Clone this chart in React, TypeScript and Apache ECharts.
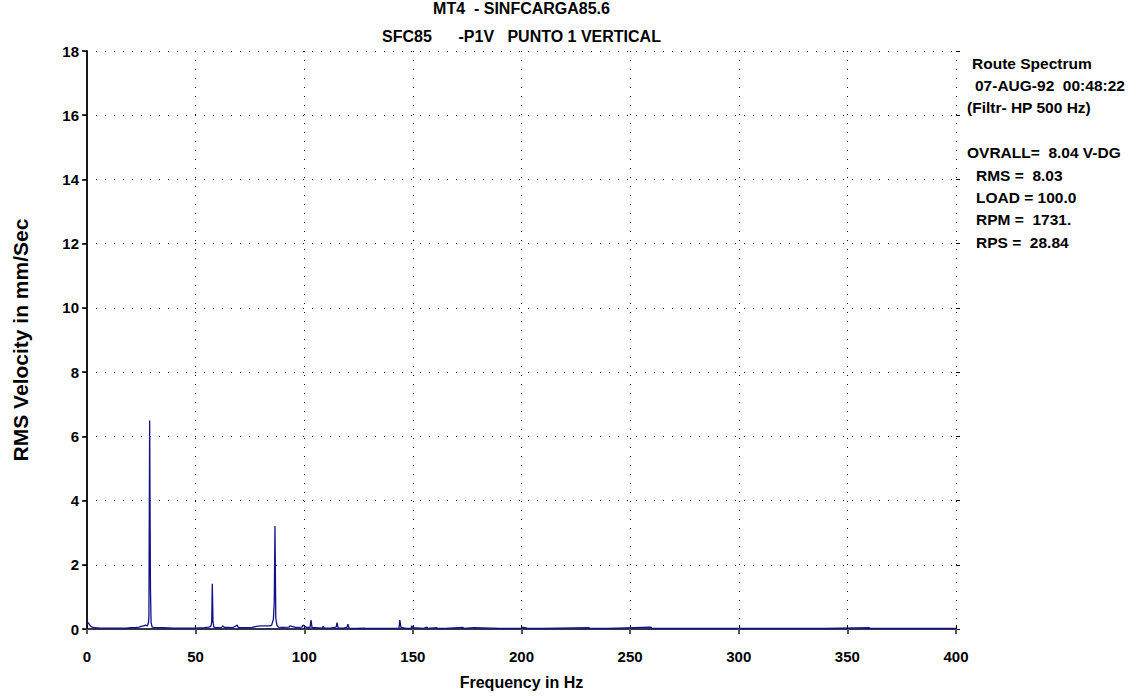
import React, { useEffect, useRef } from "react";
import * as echarts from "echarts";

const titleLine1 = "MT4  - SINFCARGA85.6";
const titleLine2 = "SFC85      -P1V   PUNTO 1 VERTICAL";
const infoLines = [
  { text: "Route Spectrum", dx: 5 },
  { text: "07-AUG-92  00:48:22", dx: 8 },
  { text: "(Filtr- HP 500 Hz)", dx: 0 },
  { text: "", dx: 0 },
  { text: "OVRALL=  8.04 V-DG", dx: 0 },
  { text: "RMS =  8.03", dx: 9 },
  { text: "LOAD = 100.0", dx: 9 },
  { text: "RPM =  1731.", dx: 9 },
  { text: "RPS =  28.84", dx: 9 },
];

const xTicks = [0, 50, 100, 150, 200, 250, 300, 350, 400];
const yTicks = [0, 2, 4, 6, 8, 10, 12, 14, 16, 18];

// Frequency (Hz) and RMS velocity (mm/s), 10 per row
const freqHz = [
  0, 0.5, 1, 1.5, 2, 3, 4, 6, 8, 10,
  14, 18, 20, 22, 24, 25, 26, 27, 27.8, 28.3,
  28.5, 28.84, 29.2, 29.5, 30, 31, 33, 35, 40, 45,
  50, 54, 56, 57, 57.4, 57.68, 58, 58.4, 59, 60,
  62, 62.6, 63.2, 65, 67, 69.2, 69.6, 70, 73, 76,
  78, 80, 82, 84, 85, 85.8, 86.2, 86.52, 86.9, 87.4,
  88, 90, 93, 93.4, 96, 99, 99.4, 101, 102.7, 103.1,
  103.6, 105, 108.3, 108.7, 109.2, 112, 114.7, 115.1, 115.6, 118,
  119.7, 120.1, 120.6, 124, 127.5, 128, 130, 140, 143.6, 144,
  144.5, 147, 149.1, 149.5, 150, 155, 156.5, 157, 161, 161.5,
  165, 173, 173.5, 178, 190, 200, 200.5, 202, 202.5, 210,
  231, 231.5, 240, 259.6, 260, 280, 300, 340, 360, 360.5,
  380, 400,
];
const rmsVel = [
  0.18, 0.2, 0.15, 0.1, 0.07, 0.05, 0.04, 0.03, 0.03, 0.03,
  0.03, 0.03, 0.04, 0.04, 0.06, 0.08, 0.1, 0.12, 0.1, 0.2,
  0.38, 6.49, 1.28, 0.2, 0.06, 0.05, 0.04, 0.04, 0.03, 0.03,
  0.03, 0.04, 0.06, 0.08, 0.22, 1.41, 0.22, 0.06, 0.05, 0.04,
  0.05, 0.1, 0.05, 0.05, 0.04, 0.12, 0.05, 0.04, 0.04, 0.05,
  0.08, 0.1, 0.1, 0.1, 0.12, 0.3, 0.85, 3.21, 0.35, 0.12,
  0.06, 0.05, 0.06, 0.1, 0.05, 0.06, 0.12, 0.05, 0.05, 0.28,
  0.04, 0.04, 0.03, 0.08, 0.03, 0.03, 0.06, 0.2, 0.03, 0.03,
  0.05, 0.15, 0.03, 0.02, 0.03, 0.02, 0.02, 0.02, 0.02, 0.28,
  0.05, 0.02, 0.02, 0.1, 0.04, 0.02, 0.06, 0.02, 0.04, 0.02,
  0.02, 0.05, 0.02, 0.04, 0.02, 0.02, 0.05, 0.04, 0.02, 0.02,
  0.04, 0.02, 0.02, 0.06, 0.02, 0.02, 0.02, 0.02, 0.04, 0.02,
  0.02, 0.02,
];

const FONT = "'Liberation Sans', Arial, sans-serif";

export default function App() {
  const ref = useRef<HTMLDivElement>(null);
  useEffect(() => {
    if (!ref.current) return;
    const chart = echarts.init(ref.current, null, { renderer: "svg" });
    const gridLeft = 87, gridTop = 51, gridW = 869, gridH = 578;
    const lbl = { fontFamily: FONT, fontWeight: "bold" as const, fontSize: 15, color: "#000" };
    const data = freqHz.map((f, i) => [f, rmsVel[i]]);
    const graphic: any[] = [];
    graphic.push({
      type: "text",
      x: gridLeft + gridW / 2,
      y: 8,
      style: { text: titleLine1, align: "center", verticalAlign: "middle", font: `bold 16px ${FONT}`, fill: "#000" },
    });
    graphic.push({
      type: "text",
      x: gridLeft + gridW / 2,
      y: 36,
      style: { text: titleLine2, align: "center", verticalAlign: "middle", font: `bold 16px ${FONT}`, fill: "#000" },
    });
    infoLines.forEach((l, i) => {
      if (!l.text) return;
      graphic.push({
        type: "text",
        x: 967 + l.dx,
        y: 63 + i * 22.4,
        style: {
          text: l.text,
          verticalAlign: "middle",
          font: `bold 15.5px ${FONT}`,
          fill: "#000",
        },
      });
    });
    const option: any = {
      animation: false,
      backgroundColor: "#fff",
      grid: { left: gridLeft, top: gridTop, width: gridW, height: gridH, containLabel: false },
      xAxis: [
        {
          type: "value",
          min: xTicks[0],
          max: xTicks[xTicks.length - 1],
          interval: 50,
          position: "bottom",
          name: "Frequency in Hz",
          nameLocation: "middle",
          nameGap: 45,
          nameTextStyle: { ...lbl, fontSize: 16 },
          axisLine: { show: true, lineStyle: { color: "#3a3aa8", width: 2 } },
          axisTick: { show: true, inside: true, length: 4, lineStyle: { color: "#000" } },
          axisLabel: { ...lbl, margin: 20 },
          splitLine: { show: true, lineStyle: { type: [1, 8], color: "#000", width: 1 } },
        },
        {
          type: "value",
          min: xTicks[0],
          max: xTicks[xTicks.length - 1],
          interval: 50,
          position: "top",
          axisLine: { show: true, lineStyle: { color: "#333", width: 1.5 } },
          axisTick: { show: true, inside: true, length: 5, lineStyle: { color: "#555", width: 2 } },
          axisLabel: { show: false },
          splitLine: { show: false },
        },
      ],
      yAxis: [
        {
          type: "value",
          min: yTicks[0],
          max: yTicks[yTicks.length - 1],
          interval: 2,
          position: "left",
          name: "RMS Velocity in mm/Sec",
          nameLocation: "middle",
          nameGap: 56,
          nameTextStyle: { ...lbl, fontSize: 21 },
          axisLine: { show: true, lineStyle: { color: "#666", width: 2 } },
          axisTick: { show: true, inside: false, length: 5, lineStyle: { color: "#000", width: 1.5 } },
          axisLabel: { ...lbl, margin: 8 },
          splitLine: { show: true, lineStyle: { type: [1, 8], color: "#000", width: 1 } },
        },
        {
          type: "value",
          min: 0,
          max: 18,
          interval: 2,
          position: "right",
          axisLine: { show: true, lineStyle: { color: "#000", width: 1.5 } },
          axisTick: { show: true, inside: true, length: 4, lineStyle: { color: "#000" } },
          axisLabel: { show: false },
          splitLine: { show: false },
        },
        {
          type: "value",
          min: 0,
          max: 18,
          interval: 2,
          position: "right",
          offset: 0,
          axisLine: { show: false },
          axisTick: { show: true, inside: false, length: 4, lineStyle: { color: "#000" } },
          axisLabel: { show: false },
          splitLine: { show: false },
        },
      ],
      series: [
        {
          type: "line",
          data,
          xAxisIndex: 0,
          yAxisIndex: 0,
          showSymbol: false,
          symbol: "none",
          lineStyle: { color: "#10108a", width: 1.3 },
          z: 5,
        },
      ],
      graphic,
    };
    chart.setOption(option);
    return () => chart.dispose();
  }, []);
  return (
    <div
      ref={ref}
      style={{ position: "fixed", left: 0, top: 0, width: 1139, height: 696, background: "#fff" }}
    />
  );
}
